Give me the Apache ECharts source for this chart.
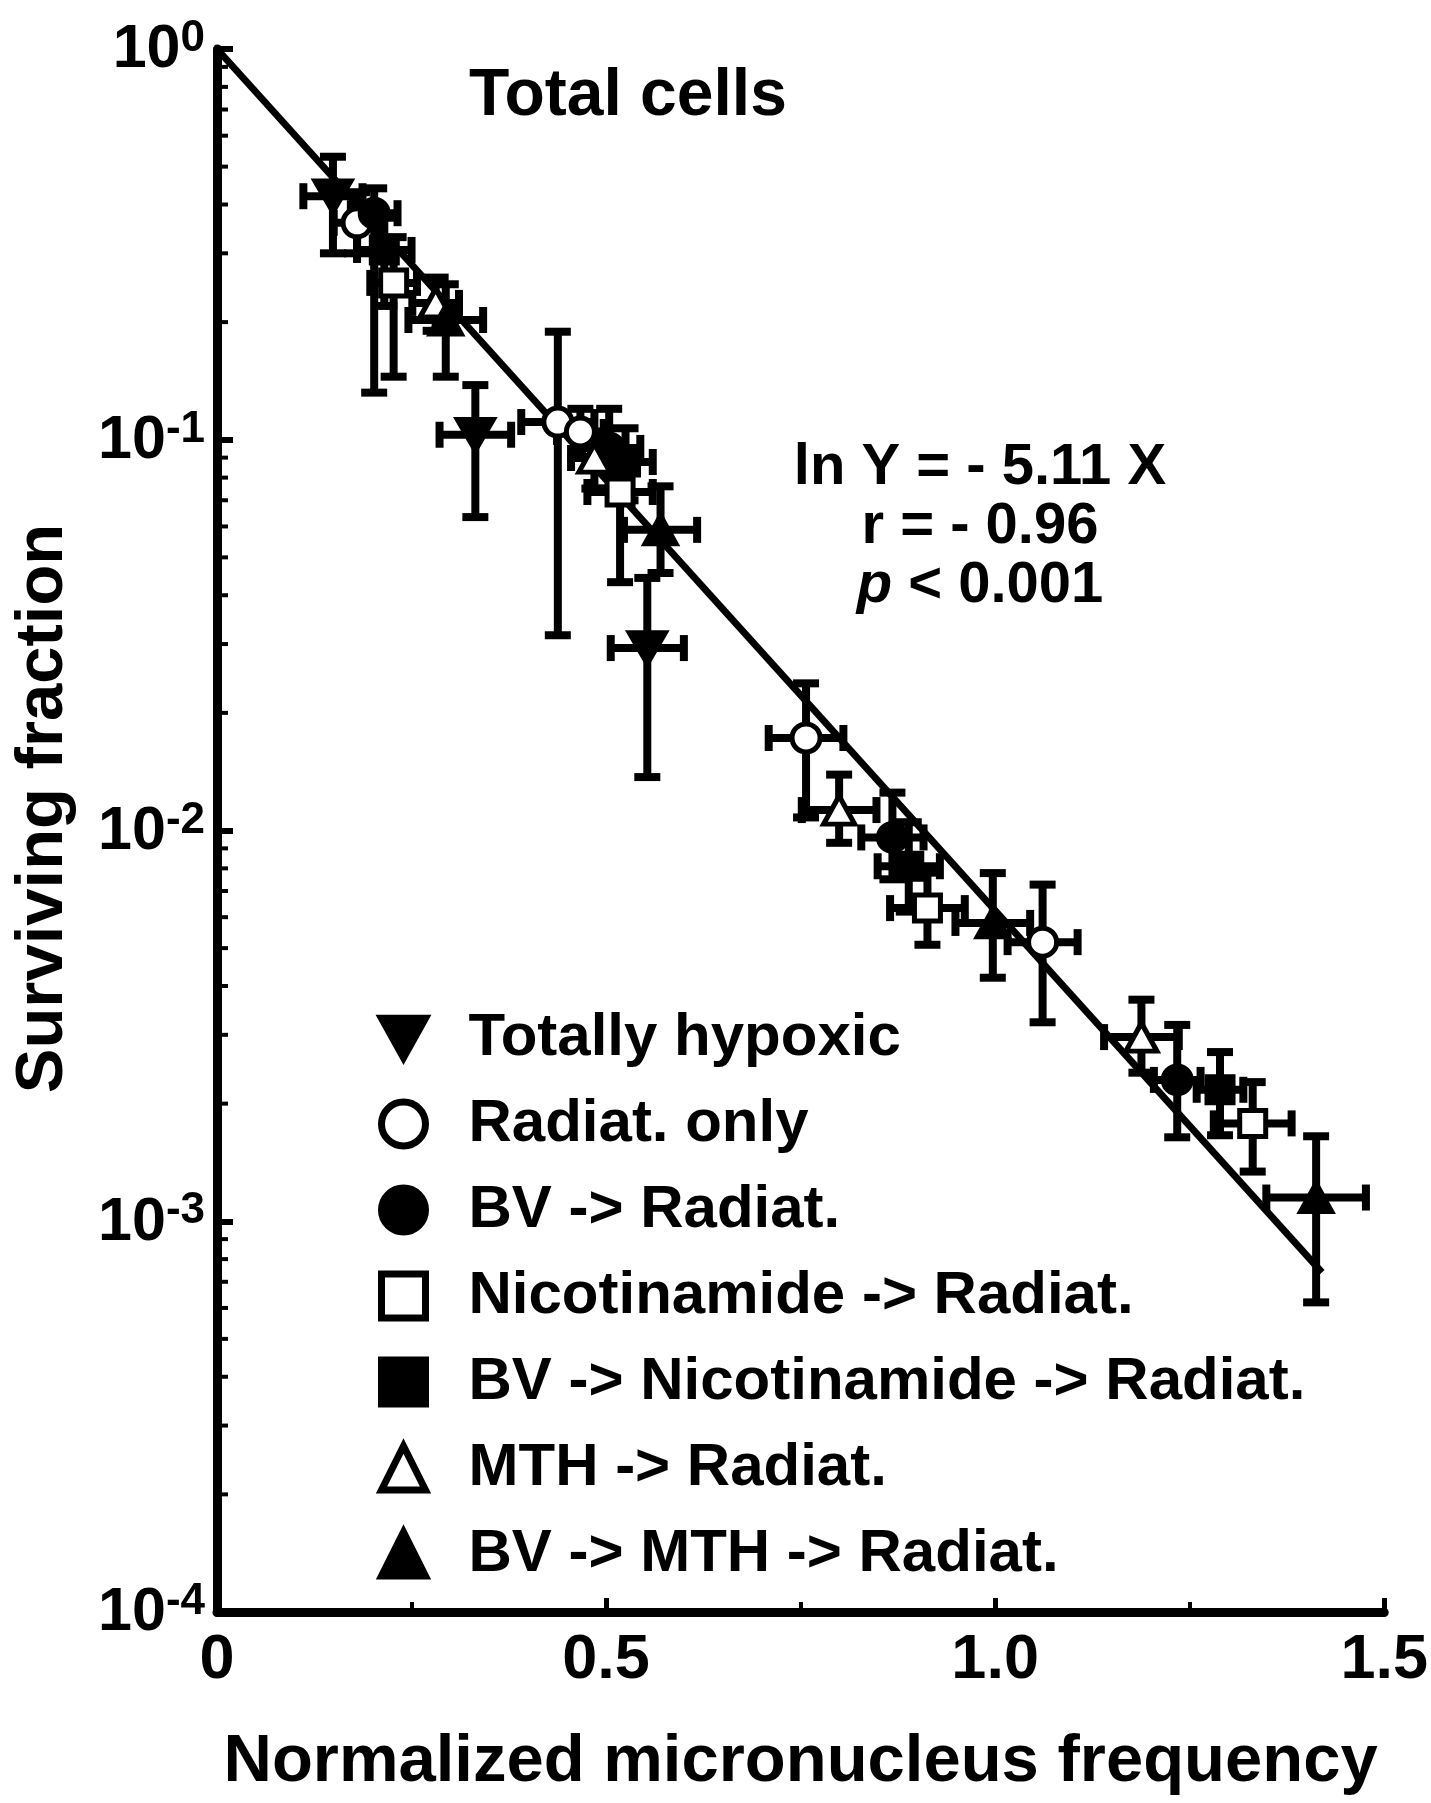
<!DOCTYPE html>
<html>
<head>
<meta charset="utf-8">
<title>Total cells</title>
<script src="https://cdn.jsdelivr.net/npm/echarts@6/dist/echarts.min.js"></script>
<style>
  html, body { margin: 0; padding: 0; background: #fff; }
  #chart { width: 1431px; height: 1803px; }
</style>
</head>
<body>
<div id="chart"></div>
<script>
// each row: [x, y, xErr, yLow, yHigh]
const hypoxic = [
  [0.149, 0.42, 0.038, 0.30, 0.53],
  [0.332, 0.103, 0.046, 0.0634, 0.138],
  [0.553, 0.0293, 0.047, 0.0137, 0.0443]
]
const radiatOnly = [
  [0.180, 0.359, 0.03, 0.30, 0.43],
  [0.438, 0.111, 0.047, 0.0316, 0.189],
  [0.467, 0.1047, 0.03, 0.09, 0.12],
  [0.757, 0.01725, 0.048, 0.0108, 0.0238],
  [1.061, 0.00518, 0.045, 0.00323, 0.00727]
]
const bvRadiat = [
  [0.202, 0.38, 0.03, 0.132, 0.44],
  [0.504, 0.0953, 0.04, 0.075, 0.12],
  [0.868, 0.0096, 0.04, 0.0075, 0.0125],
  [1.234, 0.0023, 0.03, 0.00164, 0.00318]
]
const nicoRadiat = [
  [0.227, 0.252, 0.03, 0.145, 0.33],
  [0.518, 0.0735, 0.042, 0.0432, 0.095],
  [0.913, 0.00633, 0.048, 0.0051, 0.0078],
  [1.331, 0.00178, 0.05, 0.00134, 0.00227]
]
const bvNicoRadiat = [
  [0.215, 0.306, 0.035, 0.22, 0.37],
  [0.525, 0.0877, 0.035, 0.07, 0.107],
  [0.889, 0.0081, 0.04, 0.0062, 0.0105],
  [1.289, 0.00217, 0.03, 0.00166, 0.00271]
]
const mthRadiat = [
  [0.281, 0.224, 0.03, 0.19, 0.26],
  [0.485, 0.0898, 0.03, 0.075, 0.105],
  [0.7995, 0.01128, 0.048, 0.0093, 0.0139],
  [1.188, 0.00296, 0.048, 0.0024, 0.00369]
]
const bvMthRadiat = [
  [0.294, 0.2025, 0.048, 0.145, 0.25],
  [0.570, 0.0588, 0.047, 0.0456, 0.076],
  [0.997, 0.0058, 0.048, 0.0042, 0.00778],
  [1.4125, 0.00115, 0.064, 0.00062, 0.00165]
]

// fitted line ln Y = -5.11 X, end points
const fitLine = [[0, 1], [1.42, 0.00074]]

const xTicks = [0, 0.5, 1.0, 1.5]
const xTickLabels = ['0', '0.5', '1.0', '1.5']
const minorMantissas = [2, 3, 4, 5, 6, 7, 8, 9]
const minorDecades = [0.0001, 0.001, 0.01, 0.1]

const FONT = "'Liberation Sans', Helvetica, Arial, sans-serif"
const downTri = 'path://M0,0 L10,0 L5,9 Z'

const groups = [
  {name: 'Totally hypoxic', data: hypoxic, symbol: downTri, size: [36, 31], open: false},
  {name: 'Radiat. only', data: radiatOnly, symbol: 'circle', size: 28, open: true},
  {name: 'BV -> Radiat.', data: bvRadiat, symbol: 'circle', size: 28, open: false},
  {name: 'Nicotinamide -> Radiat.', data: nicoRadiat, symbol: 'rect', size: 26, open: true},
  {name: 'BV -> Nicotinamide -> Radiat.', data: bvNicoRadiat, symbol: 'rect', size: 26, open: false},
  {name: 'MTH -> Radiat.', data: mthRadiat, symbol: 'triangle', size: [31, 28], open: true},
  {name: 'BV -> MTH -> Radiat.', data: bvMthRadiat, symbol: 'triangle', size: [31, 28], open: false}
]

const minorTicks = []
minorDecades.forEach(d => minorMantissas.forEach(m => minorTicks.push([0, m * d])))

const errorData = []
groups.forEach(g => g.data.forEach(r => errorData.push(r)))

const chart = echarts.init(document.getElementById('chart'))

const errorSeries = {
  type: 'custom',
  name: 'errors',
  z: 2,
  silent: true,
  data: errorData,
  renderItem: (params, api) => {
    const x = api.value(0), y = api.value(1), xe = api.value(2)
    const lo = api.coord([x, api.value(3)])
    const hi = api.coord([x, api.value(4)])
    const l = api.coord([x - xe, y])
    const r = api.coord([x + xe, y])
    const cap = 13
    const style = {stroke: '#000', lineWidth: 8}
    const seg = (x1, y1, x2, y2) => ({type: 'line', shape: {x1, y1, x2, y2}, style})
    return {
      type: 'group',
      children: [
        seg(lo[0], lo[1], hi[0], hi[1]),
        seg(lo[0] - cap, lo[1], lo[0] + cap, lo[1]),
        seg(hi[0] - cap, hi[1], hi[0] + cap, hi[1]),
        seg(l[0], l[1], r[0], r[1]),
        seg(l[0], l[1] - cap, l[0], l[1] + cap),
        seg(r[0], r[1] - cap, r[0], r[1] + cap)
      ]
    }
  }
}

// log minor ticks on the inside of the y axis
const minorTickSeries = {
  type: 'custom',
  name: 'minorTicks',
  z: 5,
  silent: true,
  clip: false,
  data: minorTicks,
  renderItem: (params, api) => {
    const p = api.coord([api.value(0), api.value(1)])
    return {type: 'line', shape: {x1: p[0], y1: p[1], x2: p[0] + 11, y2: p[1]}, style: {stroke: '#000', lineWidth: 4}}
  }
}

const scatterSeries = groups.map(g => ({
  type: 'scatter',
  name: g.name,
  z: 4,
  symbol: g.symbol,
  symbolSize: g.size,
  data: g.data.map(r => [r[0], r[1]]),
  itemStyle: {
    color: g.open ? '#fff' : '#000',
    borderColor: '#000',
    borderWidth: 5,
    opacity: 1
  }
}))

const option = {
  animation: false,
  backgroundColor: '#fff',
  grid: {left: 217, right: 39, top: 49, bottom: 191},
  xAxis: {
    type: 'value',
    min: 0,
    max: 1.5,
    interval: 0.5,
    name: 'Normalized micronucleus frequency',
    nameLocation: 'middle',
    nameGap: 117,
    nameTextStyle: {fontFamily: FONT, fontSize: 67, fontWeight: 'bold', color: '#000'},
    axisLine: {lineStyle: {color: '#000', width: 9}},
    axisTick: {inside: true, length: 14, lineStyle: {color: '#000', width: 5}},
    minorTick: {show: true, splitNumber: 2, length: 10, lineStyle: {color: '#000', width: 4}},
    splitLine: {show: false},
    axisLabel: {
      margin: 17,
      fontFamily: FONT,
      fontSize: 63,
      fontWeight: 'bold',
      color: '#000',
      formatter: v => {
        const i = xTicks.findIndex(t => Math.abs(t - v) < 1e-9)
        return i >= 0 ? xTickLabels[i] : ''
      }
    }
  },
  yAxis: {
    type: 'log',
    logBase: 10,
    min: 0.0001,
    max: 1,
    name: 'Surviving fraction',
    nameLocation: 'middle',
    nameGap: 140,
    nameTextStyle: {fontFamily: FONT, fontSize: 67, fontWeight: 'bold', color: '#000', padding: [0, 0, 0, 44]},
    axisLine: {lineStyle: {color: '#000', width: 9}},
    axisTick: {inside: true, length: 16, lineStyle: {color: '#000', width: 6}},
    splitLine: {show: false},
    axisLabel: {
      margin: 12,
      color: '#000',
      formatter: v => '{b|10}{s|' + Math.round(Math.log10(v)) + '}',
      rich: {
        b: {fontFamily: FONT, fontSize: 61, fontWeight: 'bold', color: '#000', lineHeight: 64, verticalAlign: 'bottom'},
        s: {fontFamily: FONT, fontSize: 44, fontWeight: 'bold', color: '#000', lineHeight: 64, verticalAlign: 'top'}
      }
    }
  },
  legend: {
    orient: 'vertical',
    left: 378,
    top: 1008,
    padding: 0,
    itemWidth: 44,
    itemHeight: 44,
    itemGap: 26,
    selectedMode: false,
    itemStyle: {borderWidth: 7},
    data: groups.map(g => g.name),
    textStyle: {fontFamily: FONT, fontSize: 60, fontWeight: 'bold', color: '#000', lineHeight: 60, padding: [0, 0, 0, 38]}
  },
  graphic: [
    {
      type: 'text',
      left: 469,
      top: 64,
      style: {text: 'Total cells', font: 'bold 66px ' + FONT, fill: '#000'}
    },
    {
      type: 'text',
      x: 980,
      y: 527,
      style: {
        text: '{n|ln Y = - 5.11 X}\n{n|r = - 0.96}\n{i|p}{n| < 0.001}',
        align: 'center',
        verticalAlign: 'middle',
        rich: {
          n: {fontFamily: FONT, fontSize: 58, fontWeight: 'bold', fill: '#000', lineHeight: 59},
          i: {fontFamily: FONT, fontSize: 58, fontWeight: 'bold', fontStyle: 'italic', fill: '#000', lineHeight: 59}
        }
      }
    }
  ],
  series: [
    {
      type: 'line',
      name: 'fit',
      z: 3,
      silent: true,
      symbol: 'none',
      data: fitLine,
      lineStyle: {color: '#000', width: 7}
    },
    errorSeries,
    minorTickSeries,
    ...scatterSeries
  ]
}

chart.setOption(option)
</script>
</body>
</html>
